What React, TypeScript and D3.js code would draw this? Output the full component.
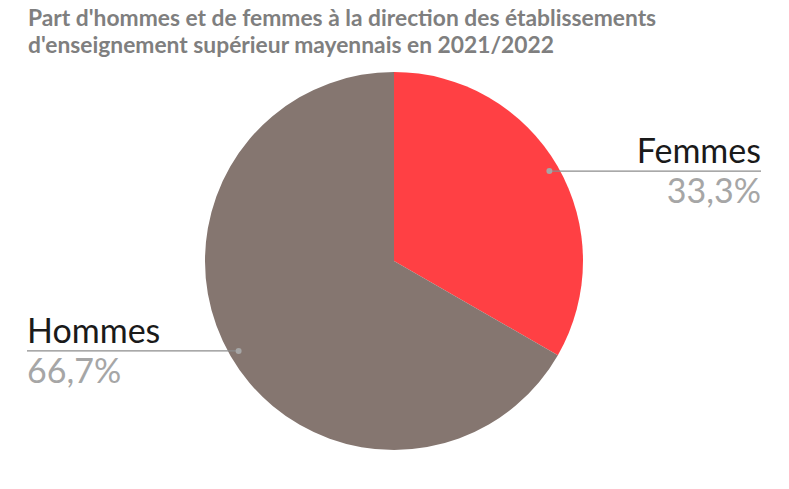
import * as d3 from "d3";
import { useMemo } from "react";

const categories = ["Femmes", "Hommes"];
const values = [33.3, 66.7];
const colors = ["#FF4044", "#857670"];
const titleLines = [
  "Part d'hommes et de femmes à la direction des établissements",
  "d'enseignement supérieur mayennais en 2021/2022",
];

const W = 789;
const H = 489;

export default function App() {
  const cx = 394;
  const cy = 261;
  const r = 189;

  const arcs = useMemo(
    () =>
      d3
        .pie<number>()
        .sort(null)
        .value((d) => d)(values),
    []
  );
  const arcGen = d3.arc<d3.PieArcDatum<number>>().innerRadius(0).outerRadius(r);
  const dotArc = d3.arc<d3.PieArcDatum<number>>().innerRadius(r * 0.95).outerRadius(r * 0.95);

  const fmt = (v: number) => v.toFixed(1).replace(".", ",") + "%";

  return (
    <svg
      width={W}
      height={H}
      style={{ position: "absolute", left: 0, top: 0, background: "#fff" }}
      fontFamily="Lato, 'Open Sans', sans-serif"
    >
      {titleLines.map((t, i) => (
        <text
          key={i}
          x={28}
          y={26 + i * 27}
          fontSize={22.8}
          fontWeight="bold"
          fill="#7f7f7f"
        >
          {t}
        </text>
      ))}
      <g transform={`translate(${cx},${cy})`}>
        {arcs.map((a, i) => (
          <path key={i} d={arcGen(a) || ""} fill={colors[i]} />
        ))}
      </g>
      {arcs.map((a, i) => {
        const [dx, dy] = dotArc.centroid(a);
        const px = cx + dx;
        const py = cy + dy;
        const right = px > cx;
        const endX = right ? 761 : 27;
        const anchor = right ? "end" : "start";
        return (
          <g key={"l" + i}>
            <line x1={px} y1={py} x2={endX} y2={py} stroke="#8c8c8c" strokeWidth={1.3} />
            <circle cx={px} cy={py} r={3} fill="#a6a6a6" />
            <text x={endX} y={py - 8} textAnchor={anchor} fontSize={34} fill="#1a1a1a">
              {categories[i]}
            </text>
            <text x={endX} y={py + 32} textAnchor={anchor} fontSize={34} fill="#a6a6a6">
              {fmt(values[i])}
            </text>
          </g>
        );
      })}
    </svg>
  );
}
